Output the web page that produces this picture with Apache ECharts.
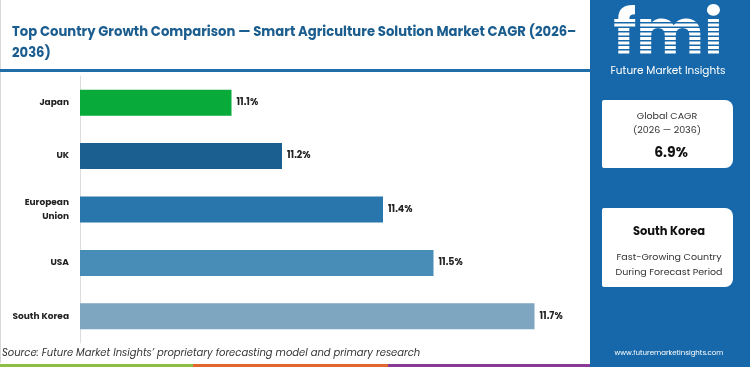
<!DOCTYPE html>
<html lang="en">

<head>
    <meta charset="UTF-8">
    <title>Smart Agriculture Solution Market CAGR</title>
    <script src="https://cdn.jsdelivr.net/npm/echarts@6/dist/echarts.min.js"></script>
    <style>
        body { margin: 0; }
        #main { width: 750px; height: 367px; }
    </style>
</head>

<body>
    <div id="main"></div>

    <script>
        // values
        const countries = ['Japan', 'UK', 'European\nUnion', 'USA', 'South Korea'];
        const cagr = [11.1, 11.2, 11.4, 11.5, 11.7];
        const barColors = ['#08aa3a', '#1a5f8f', '#2876ab', '#488db8', '#7ea6c0'];

        const globalCagr = '6.9%';
        const leader = 'South Korea';

        const myChart = echarts.init(document.getElementById('main'));
        const font = 'Poppins, "Open Sans", sans-serif';
        const panelBlue = '#1668aa';

        // stripes across the logo letters
        const logoStripes = [];
        for (let y = 22; y < 58; y += 4.5) {
            logoStripes.push({
                type: 'rect', shape: { x: 608, y: y, width: 122, height: 1.5 },
                style: { fill: panelBlue }
            });
        }

        let option = {
            backgroundColor: '#fff',
            animation: false,
            title: {
                text: 'Top Country Growth Comparison — Smart Agriculture Solution Market CAGR (2026–\n2036)',
                left: 7,
                top: 17,
                textStyle: {
                    fontFamily: font,
                    fontSize: 13.2,
                    fontWeight: 'bold',
                    color: '#1b5d8e',
                    lineHeight: 21
                }
            },
            grid: {
                left: 80,
                right: 165,
                top: 76,
                bottom: 24,
                outerBoundsMode: 'none'
            },
            xAxis: {
                type: 'value',
                min: 10.8,
                max: 11.8,
                show: false
            },
            yAxis: {
                type: 'category',
                inverse: true,
                data: countries,
                axisLine: { lineStyle: { color: '#dcdcdc' } },
                axisTick: { length: 3, lineStyle: { color: '#dcdcdc' } },
                axisLabel: {
                    margin: 11,
                    fontFamily: font,
                    fontSize: 9,
                    fontWeight: 'bold',
                    color: '#222',
                    lineHeight: 14
                }
            },
            series: [
                {
                    type: 'bar',
                    barWidth: 26,
                    data: cagr.map((v, i) => ({ value: v, itemStyle: { color: barColors[i] } })),
                    label: {
                        show: true,
                        position: 'right',
                        distance: 5,
                        formatter: '{c}%',
                        fontFamily: font,
                        fontSize: 9.5,
                        fontWeight: 'bold',
                        color: '#222'
                    }
                }
            ],
            graphic: [
                // left border + blue rule under title
                { type: 'rect', shape: { x: 0, y: 0, width: 1, height: 363 }, style: { fill: '#d8d8d8' } },
                { type: 'rect', shape: { x: 0, y: 69, width: 590, height: 3 }, style: { fill: '#1f6ea8' } },
                // bottom strip
                { type: 'rect', shape: { x: 0, y: 364, width: 193, height: 3 }, style: { fill: '#8dbf45' } },
                { type: 'rect', shape: { x: 193, y: 364, width: 195, height: 3 }, style: { fill: '#e2672c' } },
                { type: 'rect', shape: { x: 388, y: 364, width: 202, height: 3 }, style: { fill: '#8a3a96' } },
                // source
                {
                    type: 'text', left: 2, top: 348,
                    style: {
                        text: 'Source: Future Market Insights’ proprietary forecasting model and primary research',
                        font: 'italic 10px ' + font, fill: '#333'
                    }
                },
                // right panel
                { type: 'rect', shape: { x: 590, y: 0, width: 160, height: 367 }, style: { fill: panelBlue } },
                {
                    type: 'text', x: 668, y: 39,
                    style: {
                        text: 'fmi', font: 'bold 64px ' + font, fill: '#fff',
                        align: 'center', verticalAlign: 'middle'
                    }
                },
                ...logoStripes,
                {
                    type: 'text', x: 668, y: 71,
                    style: {
                        text: 'Future Market Insights', font: '10.5px ' + font, fill: '#fff',
                        align: 'center', verticalAlign: 'middle'
                    }
                },
                {
                    type: 'rect', shape: { x: 602, y: 100, width: 131, height: 68, r: [2, 8, 8, 2] },
                    style: { fill: '#fff' }
                },
                {
                    type: 'text', x: 667, y: 124,
                    style: {
                        text: 'Global CAGR\n(2026 — 2036)', font: '9.5px ' + font, fill: '#333',
                        lineHeight: 14, align: 'center', verticalAlign: 'middle'
                    }
                },
                {
                    type: 'text', x: 671, y: 153,
                    style: {
                        text: globalCagr, font: 'bold 14px ' + font, fill: '#111',
                        align: 'center', verticalAlign: 'middle'
                    }
                },
                {
                    type: 'rect', shape: { x: 602, y: 208, width: 131, height: 79, r: [2, 8, 8, 2] },
                    style: { fill: '#fff' }
                },
                {
                    type: 'text', x: 669, y: 232,
                    style: {
                        text: leader, font: 'bold 11.5px ' + font, fill: '#111',
                        align: 'center', verticalAlign: 'middle'
                    }
                },
                {
                    type: 'text', x: 669, y: 265,
                    style: {
                        text: 'Fast-Growing Country\nDuring Forecast Period', font: '9.5px ' + font, fill: '#333',
                        lineHeight: 15, align: 'center', verticalAlign: 'middle'
                    }
                },
                {
                    type: 'text', x: 669, y: 353,
                    style: {
                        text: 'www.futuremarketinsights.com', font: '7px ' + font, fill: '#fff',
                        align: 'center', verticalAlign: 'middle'
                    }
                }
            ]
        };

        myChart.setOption(option);
    </script>
</body>

</html>
